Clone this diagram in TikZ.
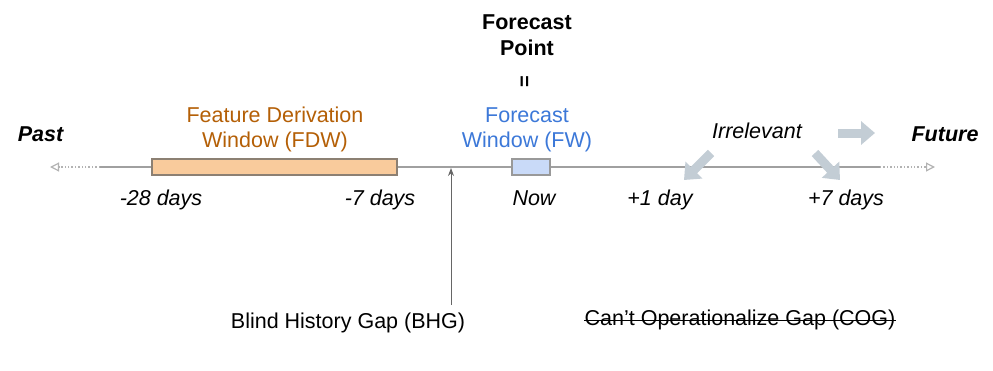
\documentclass[tikz,border=0pt]{standalone}
\usepackage{fontspec}
\setmainfont{Liberation Sans}
\usetikzlibrary{arrows.meta}
\definecolor{fdwc}{HTML}{B45F06}
\definecolor{fwc}{HTML}{3C78D8}
\definecolor{fdwfill}{HTML}{F9CB9C}
\definecolor{fwfill}{HTML}{C9DAF8}
\definecolor{linec}{HTML}{A0A0A0}
\definecolor{bigarr}{RGB}{195,205,213}
\tikzset{
  lbl/.style={font=\fontsize{21.5}{25}\selectfont, inner sep=0pt, align=center},
  daylbl/.style={lbl, anchor=base, font=\fontsize{21.5}{25}\selectfont\itshape},
  endlbl/.style={lbl, anchor=base, font=\fontsize{21.5}{25}\selectfont\bfseries\itshape},
  winbox/.style={draw=gray!80!brown, line width=1.2pt, minimum height=16pt, inner sep=0pt},
  bigarrow/.style={line width=9pt, bigarr, -{Triangle[length=14pt,width=23pt]}},
  tl/.style={linec, line width=1.3pt},
  tldot/.style={linec!80, line width=1.4pt, dotted},
}
\begin{document}
\begin{tikzpicture}[x=1pt,y=-1pt]
\useasboundingbox (0,0) rectangle (993,370);
% timeline
\coordinate (L0) at (50,167);
\coordinate (L1) at (100,167);
\coordinate (R1) at (880,167);
\coordinate (R0) at (935,167);
\draw[tl] (L1) -- (R1);
\draw[tldot, -{Triangle[open,length=9pt,width=9pt,line width=1.2pt]}] (L1) -- (L0);
\draw[tldot, -{Triangle[open,length=9pt,width=9pt,line width=1.2pt]}] (R1) -- (R0);
% windows
\node[winbox, fill=fdwfill, minimum width=245pt] (fdw) at (274.5,167) {};
\node[winbox, fill=fwfill, minimum width=38pt, draw=gray!80] (fw) at (531,167) {};
% labels
\node[endlbl] (past) at (40.5,141) {Past};
\node[endlbl] (future) at (945,141) {Future};
\node[lbl, text=fdwc] (fdwl) at (275,129.5) {Feature Derivation\\Window (FDW)};
\node[lbl, text=fwc] (fwl) at (527,130) {Forecast\\Window (FW)};
\node[lbl, font=\fontsize{21.5}{26}\selectfont\bfseries] (fp) at (527,35) {Forecast\\Point};
\node[lbl, font=\fontsize{20}{22}\selectfont\bfseries, rotate=90] (eq) at (526,81.5) {=};
\node[daylbl] (d28) at (161,205) {-28 days};
\node[daylbl] (d7) at (380,205) {-7 days};
\node[daylbl] (now) at (534,205) {Now};
\node[daylbl] (p1) at (660,205) {+1 day};
\node[daylbl] (p7) at (846,205) {+7 days};
\node[daylbl] (irr) at (757,138) {Irrelevant};
% BHG
\node[lbl] (bhg) at (348,323) {Blind History Gap (BHG)};
\coordinate (bhgtop) at (451,168);
\coordinate (bhgbot) at (451,305);
\draw[gray!80!black, line width=1pt, -{Stealth[length=8pt,width=6pt]}] (bhgbot) -- (bhgtop);
% COG
\node[lbl] (cog) at (740,320) {Can’t Operationalize Gap (COG)};
\draw[black, line width=1.2pt] ([yshift=-0.5pt]cog.west) -- ([yshift=-0.5pt]cog.east);
% big gray arrows
\coordinate (a1s) at (838,133);
\coordinate (a1e) at (875,133);
\coordinate (a2s) at (711,153);
\coordinate (a2e) at (684,180);
\coordinate (a3s) at (815,153);
\coordinate (a3e) at (840,180);
\draw[bigarrow] (a1s) -- (a1e);
\draw[bigarrow] (a2s) -- (a2e);
\draw[bigarrow] (a3s) -- (a3e);
\end{tikzpicture}
\end{document}
